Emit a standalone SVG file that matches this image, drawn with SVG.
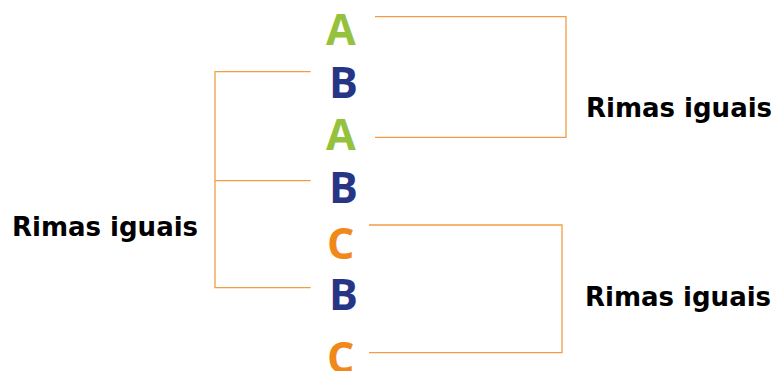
<svg xmlns="http://www.w3.org/2000/svg" width="775" height="371" viewBox="0 0 775 371">
<style>
.l{font-family:"Open Sans","Noto Sans",sans-serif;font-weight:700;font-size:43px}
.a{fill:#95c23d}.b{fill:#263584}.c{fill:#f0891a}
.lab{font-family:"DejaVu Sans",sans-serif;font-weight:700;font-size:26px;fill:#000}
.br{fill:none;stroke:#f39c45;stroke-width:1.3}
</style>
<rect width="775" height="371" fill="#fff"/>
<g id="connectors">
<polyline class="br" points="375,16.7 566,16.7 566,137.3 375,137.3"/>
<polyline class="br" points="310.7,71.7 215,71.7 215,287.7 310.7,287.7"/>
<line class="br" x1="215" y1="180.7" x2="310.7" y2="180.7"/>
<polyline class="br" points="369,225 562,225 562,352.7 369,352.7"/>
</g>
<g id="verse1"><text class="l a" x="326" y="45">A</text></g>
<g id="verse2"><text class="l b" x="329" y="98">B</text></g>
<g id="verse3"><text class="l a" x="326" y="150">A</text></g>
<g id="verse4"><text class="l b" x="329" y="203">B</text></g>
<g id="verse5"><text class="l c" x="327" y="259">C</text></g>
<g id="verse6"><text class="l b" x="329" y="310">B</text></g>
<g id="verse7"><text class="l c" x="327" y="373">C</text></g>
<g id="label-top"><text class="lab" x="586" y="117">Rimas iguais</text></g>
<g id="label-left"><text class="lab" x="12" y="236">Rimas iguais</text></g>
<g id="label-bottom"><text class="lab" x="585" y="306">Rimas iguais</text></g>
</svg>
